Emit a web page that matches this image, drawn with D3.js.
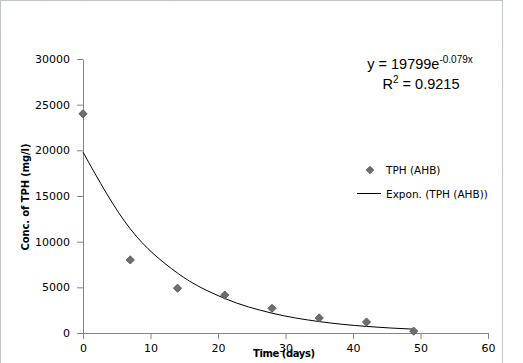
<!DOCTYPE html>
<html>
<head>
<meta charset="utf-8">
<script src="https://cdn.jsdelivr.net/npm/d3@7"></script>
<style>
  body { margin: 0; background: #fff; }
  svg { display: block; }
</style>
</head>
<body>
<div id="chart-area"></div>
<script>
// observed TPH values
const days = [0, 7, 14, 21, 28, 35, 42, 49];
const tph = [24000, 8000, 4900, 4150, 2700, 1650, 1200, 200];

// exponential trendline
const trendDays = [0, 7, 14, 21, 28, 35, 42, 49];
const trendTph = [19800, 11400, 6560, 3780, 2170, 1250, 720, 420];

const xTicks = [0, 10, 20, 30, 40, 50, 60];
const yTicks = [0, 5000, 10000, 15000, 20000, 25000, 30000];

const width = 523;
const height = 363;
const plot = { left: 83, right: 488, top: 59, bottom: 333 };

const svg = d3.select('#chart-area').append('svg')
  .attr('width', width)
  .attr('height', height);

// chart frame
svg.append('rect')
  .attr('x', 0.5)
  .attr('y', 0.5)
  .attr('width', 502)
  .attr('height', 400)
  .attr('fill', 'none')
  .attr('stroke', '#7f8a7f')
  .attr('stroke-dasharray', '1,1');

const scaleX = d3.scaleLinear()
  .domain([0, 60])
  .range([plot.left, plot.right]);

const scaleY = d3.scaleLinear()
  .domain([0, 30000])
  .range([plot.bottom, plot.top]);

const axisX = d3.axisBottom(scaleX)
  .tickValues(xTicks)
  .tickFormat(d3.format('d'))
  .tickSizeInner(6)
  .tickSizeOuter(0)
  .tickPadding(5);

const axisY = d3.axisLeft(scaleY)
  .tickValues(yTicks)
  .tickFormat(d3.format('d'))
  .tickSizeInner(6)
  .tickSizeOuter(0)
  .tickPadding(7);

const gx = svg.append('g')
  .attr('transform', `translate(0, ${plot.bottom})`)
  .call(axisX);

const gy = svg.append('g')
  .attr('transform', `translate(${plot.left}, 0)`)
  .call(axisY);

[gx, gy].forEach(g => {
  g.selectAll('.domain, line').attr('stroke', '#868686');
  g.selectAll('text')
    .attr('font-family', 'DejaVu Sans, Verdana, sans-serif')
    .attr('font-size', '11px')
    .attr('fill', '#000');
});

// axis titles
svg.append('text')
  .text('Time (days)')
  .attr('x', 284)
  .attr('y', 357)
  .attr('text-anchor', 'middle')
  .attr('font-family', 'DejaVu Sans, Verdana, sans-serif')
  .attr('font-weight', 'bold')
  .attr('font-size', '10px')
  .attr('textLength', 62);

svg.append('text')
  .text('Conc. of TPH (mg/l)')
  .attr('transform', 'translate(29, 197) rotate(-90)')
  .attr('text-anchor', 'middle')
  .attr('font-family', 'DejaVu Sans, Verdana, sans-serif')
  .attr('font-weight', 'bold')
  .attr('font-size', '10px')
  .attr('textLength', 107);

// trendline
const line = d3.line()
  .x(d => scaleX(d[0]))
  .y(d => scaleY(d[1]))
  .curve(d3.curveMonotoneX);

svg.append('path')
  .datum(d3.zip(trendDays, trendTph))
  .attr('d', line)
  .attr('fill', 'none')
  .attr('stroke', '#000')
  .attr('stroke-width', 1);

// data markers
const diamond = d3.symbol().type(d3.symbolSquare).size(34);

svg.selectAll('path.marker')
  .data(d3.zip(days, tph))
  .enter()
  .append('path')
    .attr('class', 'marker')
    .attr('d', diamond)
    .attr('transform', d => `translate(${scaleX(d[0])}, ${scaleY(d[1])}) rotate(45)`)
    .attr('fill', '#6e6e6e')
    .attr('stroke', '#555')
    .attr('stroke-width', 0.8);

// equation
const eq = svg.append('text')
  .attr('x', 420)
  .attr('y', 69)
  .attr('text-anchor', 'middle')
  .attr('font-family', 'Liberation Sans, Arial, sans-serif')
  .attr('font-size', '14.5px');
eq.append('tspan').text('y = 19799e');
eq.append('tspan').text('-0.079x')
  .attr('dy', -6)
  .attr('font-size', '10px');

const r2 = svg.append('text')
  .attr('x', 421)
  .attr('y', 89)
  .attr('text-anchor', 'middle')
  .attr('font-family', 'Liberation Sans, Arial, sans-serif')
  .attr('font-size', '14.5px');
r2.append('tspan').text('R');
r2.append('tspan').text('2').attr('dy', -6).attr('font-size', '10px');
r2.append('tspan').text(' = 0.9215').attr('dy', 6);

// legend
const legend = svg.append('g');

legend.append('path')
  .attr('d', d3.symbol().type(d3.symbolSquare).size(28))
  .attr('transform', 'translate(370, 170) rotate(45)')
  .attr('fill', '#6e6e6e')
  .attr('stroke', '#555')
  .attr('stroke-width', 0.8);

legend.append('line')
  .attr('x1', 357)
  .attr('x2', 381)
  .attr('y1', 193.5)
  .attr('y2', 193.5)
  .attr('stroke', '#000');

legend.selectAll('text')
  .data(['TPH (AHB)', 'Expon. (TPH (AHB))'])
  .enter()
  .append('text')
    .text(d => d)
    .attr('x', 386)
    .attr('y', (d, i) => 174 + i * 23.5)
    .attr('font-family', 'DejaVu Sans, Verdana, sans-serif')
    .attr('font-size', '10.5px');
</script>
</body>
</html>
